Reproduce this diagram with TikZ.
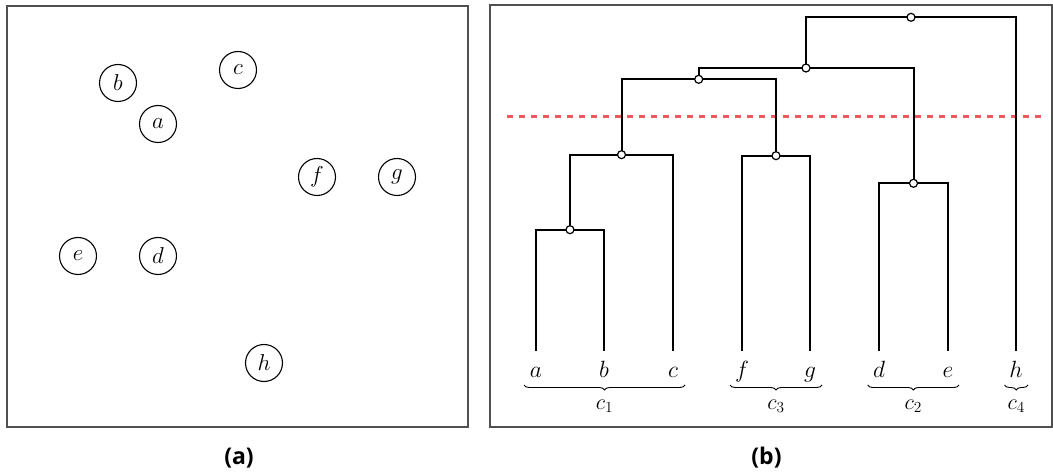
\RequirePackage{fix-cm}
\documentclass[tikz,border=0pt]{standalone}
\usepackage{fontspec}
\newfontfamily\capfont{Open Sans}
\usetikzlibrary{decorations.pathreplacing}
\definecolor{cutred}{HTML}{F05A5A}
\definecolor{framegray}{HTML}{505050}
\tikzset{
  panelframe/.style={draw=framegray, line width=1.2pt},
  pointnode/.style={draw, circle, minimum size=37pt, inner sep=0pt, line width=1.1pt, font=\fontsize{23}{27}\selectfont},
  treeline/.style={line width=2pt, line cap=rect},
  mergenode/.style={draw, circle, fill=white, minimum size=8pt, inner sep=0pt, line width=1.2pt},
  leaflabel/.style={anchor=base, font=\fontsize{23.5}{27}\selectfont, inner sep=0pt},
  clusterlabel/.style={anchor=base, font=\fontsize{22}{26}\selectfont, inner sep=0pt},
  bracepath/.style={decorate, decoration={brace, mirror, amplitude=5pt}, line width=0.9pt},
  cutline/.style={draw=cutred, line width=3pt, dash pattern=on 6pt off 6pt},
  caption/.style={font=\capfont\bfseries\fontsize{23}{27}\selectfont}
}
\begin{document}
\begin{tikzpicture}[x=1pt, y=-1pt]
\useasboundingbox (0,0) rectangle (1053,473);
% ---------- panel (a) ----------
\draw[panelframe] (7,6) rectangle (468,427);
\node[pointnode] (pb) at (118,83) {$b$};
\node[pointnode] (pc) at (238,70) {$c$};
\node[pointnode] (pa) at (158,124) {$a$};
\node[pointnode] (pf) at (317,177) {$f$};
\node[pointnode] (pg) at (397,177) {$g$};
\node[pointnode] (pe) at (78,256) {$e$};
\node[pointnode] (pd) at (158,256) {$d$};
\node[pointnode] (ph) at (264,363) {$h$};
\node[caption] (capa) at (239,458) {(a)};
% ---------- panel (b) ----------
\draw[panelframe] (490,5) rectangle (1052,427);
% leaf tops
\coordinate (ta) at (536,350);
\coordinate (tb) at (604,350);
\coordinate (tc) at (673,350);
\coordinate (tf) at (742,350);
\coordinate (tg) at (810,350);
\coordinate (td) at (879,350);
\coordinate (te) at (948,350);
\coordinate (th) at (1016,350);
% merge points
\coordinate (nab) at (570,229.7);
\coordinate (nabc) at (621.5,154.7);
\coordinate (nfg) at (776,155.7);
\coordinate (nde) at (913.5,183.3);
\coordinate (nabcfg) at (698.7,79.3);
\coordinate (nseven) at (806,68);
\coordinate (nroot) at (911,17.3);
% cut line
\coordinate (cutl) at (507,116.7);
\coordinate (cutr) at (1046,116.7);
\draw[cutline] (cutl) -- (cutr);
% tree
\draw[treeline] (ta) |- (nab) -| (tb);
\draw[treeline] (nab) |- (nabc) -| (tc);
\draw[treeline] (tf) |- (nfg) -| (tg);
\draw[treeline] (td) |- (nde) -| (te);
\draw[treeline] (nabc) |- (nabcfg) -| (nfg);
\draw[treeline] (nabcfg) |- (nseven) -| (nde);
\draw[treeline] (nseven) |- (nroot) -| (th);
\node[mergenode] (mab) at (nab) {};
\node[mergenode] (mabc) at (nabc) {};
\node[mergenode] (mfg) at (nfg) {};
\node[mergenode] (mde) at (nde) {};
\node[mergenode] (mabcfg) at (nabcfg) {};
\node[mergenode] (mseven) at (nseven) {};
\node[mergenode] (mroot) at (nroot) {};
% leaf labels
\node[leaflabel] (la) at (536,377) {$a$};
\node[leaflabel] (lb) at (604,377) {$b$};
\node[leaflabel] (lc) at (673,377) {$c$};
\node[leaflabel] (lf) at (742,377) {$f$};
\node[leaflabel] (lg) at (810,377) {$g$};
\node[leaflabel] (ld) at (879,377) {$d$};
\node[leaflabel] (le) at (948,377) {$e$};
\node[leaflabel] (lh) at (1016,377) {$h$};
% braces
\coordinate (bc1l) at (524,385); \coordinate (bc1r) at (685,385);
\coordinate (bc3l) at (730,385); \coordinate (bc3r) at (822,385);
\coordinate (bc2l) at (867.7,385); \coordinate (bc2r) at (959,385);
\coordinate (bc4l) at (1004.5,385); \coordinate (bc4r) at (1028,385);
\draw[bracepath] (bc1l) -- (bc1r);
\draw[bracepath] (bc3l) -- (bc3r);
\draw[bracepath] (bc2l) -- (bc2r);
\draw[bracepath] (bc4l) -- (bc4r);
\node[clusterlabel] (c1) at (604.5,409) {$c_1$};
\node[clusterlabel] (c3) at (776,409) {$c_3$};
\node[clusterlabel] (c2) at (913.3,409) {$c_2$};
\node[clusterlabel] (c4) at (1016.3,409) {$c_4$};
\node[caption] (capb) at (766.5,458) {(b)};
\end{tikzpicture}
\end{document}
